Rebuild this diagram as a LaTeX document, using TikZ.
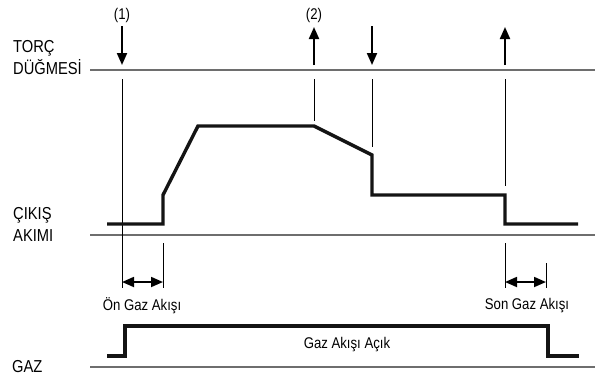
\documentclass[tikz,border=0pt]{standalone}
\usepackage{fontspec}
\setmainfont{Liberation Sans}[FakeStretch=0.85]
\usetikzlibrary{arrows.meta}
\definecolor{wave}{HTML}{141414}
\definecolor{axis}{HTML}{6E6E6E}
\tikzset{
  baseline rule/.style={draw=axis, line width=1.3pt},
  marker/.style={draw=black, line width=0.9pt},
  signal/.style={draw=wave, line width=3.4pt, line join=miter},
  push/.style={draw=black, line width=2pt, -{Triangle[length=12pt,width=10pt]}},
  span/.style={draw=black, line width=1.8pt, {Triangle[length=12pt,width=10pt]}-{Triangle[length=12pt,width=10pt]}},
  rowlabel/.style={font=\fontsize{17.3}{22}\selectfont, align=left, anchor=west, inner sep=0pt},
  note/.style={font=\fontsize{15.5}{18}\selectfont, inner sep=0pt},
}
\begin{document}
\begin{tikzpicture}[x=1pt,y=-1pt]
\useasboundingbox (0,0) rectangle (599,376);

% row labels
\node[rowlabel] (lblTorch) at (13,58) {TORÇ\\DÜĞMESİ};
\node[rowlabel] (lblOut) at (13,224) {ÇIKIŞ\\AKIMI};
\node[rowlabel] (lblGas) at (12,367) {GAZ};

% row base lines
\coordinate (tA) at (90,70);  \coordinate (tB) at (595,70);
\coordinate (cA) at (90,235); \coordinate (cB) at (595,235);
\coordinate (gA) at (90,367); \coordinate (gB) at (595,367);
\draw[baseline rule] (tA) -- (tB);
\draw[baseline rule] (cA) -- (cB);
\draw[baseline rule] (gA) -- (gB);

% trigger press / release arrows
\node[note] (n1) at (122,15) {(1)};
\node[note] (n2) at (314,15) {(2)};
\coordinate (p1s) at (122,26); \coordinate (p1e) at (122,65);
\coordinate (p2s) at (314,65); \coordinate (p2e) at (314,27);
\coordinate (p3s) at (372,26); \coordinate (p3e) at (372,65);
\coordinate (p4s) at (505,65); \coordinate (p4e) at (505,27);
\draw[push] (p1s) -- (p1e);
\draw[push] (p2s) -- (p2e);
\draw[push] (p3s) -- (p3e);
\draw[push] (p4s) -- (p4e);

% event markers
\coordinate (m1a) at (122,79); \coordinate (m1b) at (122,288);
\coordinate (m2a) at (314,79); \coordinate (m2b) at (314,121);
\coordinate (m3a) at (372,79); \coordinate (m3b) at (372,147);
\coordinate (m4a) at (505,79); \coordinate (m4b) at (505,186);
\coordinate (m5a) at (163,243); \coordinate (m5b) at (163,288);
\coordinate (m6a) at (505,243); \coordinate (m6b) at (505,288);
\coordinate (m7a) at (546,263); \coordinate (m7b) at (546,288);
\foreach \s in {1,...,7} \draw[marker] (m\s a) -- (m\s b);

% output current
\coordinate (w0) at (107,224);
\coordinate (w1) at (163,224);
\coordinate (w2) at (163,195);
\coordinate (w3) at (198,126);
\coordinate (w4) at (314,126);
\coordinate (w5) at (372,155);
\coordinate (w6) at (372,195);
\coordinate (w7) at (505,195);
\coordinate (w8) at (505,224);
\coordinate (w9) at (578,224);
\draw[signal] (w0) -- (w1) -- (w2) -- (w3) -- (w4) -- (w5) -- (w6) -- (w7) -- (w8) -- (w9);

% pre-flow and post-flow intervals
\draw[span] (m1b |- 0,282) coordinate (s1a) -- (m5b |- 0,282) coordinate (s1b);
\draw[span] (m6b |- 0,282) coordinate (s2a) -- (m7b |- 0,282) coordinate (s2b);
\node[note] (pre) at (142,306) {Ön Gaz Akışı};
\node[note] (post) at (527,306) {Son Gaz Akışı};

% gas valve
\coordinate (g0) at (107,356);
\coordinate (g1) at (125,356);
\coordinate (g2) at (125,326);
\coordinate (g3) at (548,326);
\coordinate (g4) at (548,356);
\coordinate (g5) at (579,356);
\draw[signal] (g0) -- (g1) -- (g2) -- (g3) -- (g4) -- (g5);
\node[note] (gasOn) at (347,345) {Gaz Akışı Açık};
\end{tikzpicture}
\end{document}
